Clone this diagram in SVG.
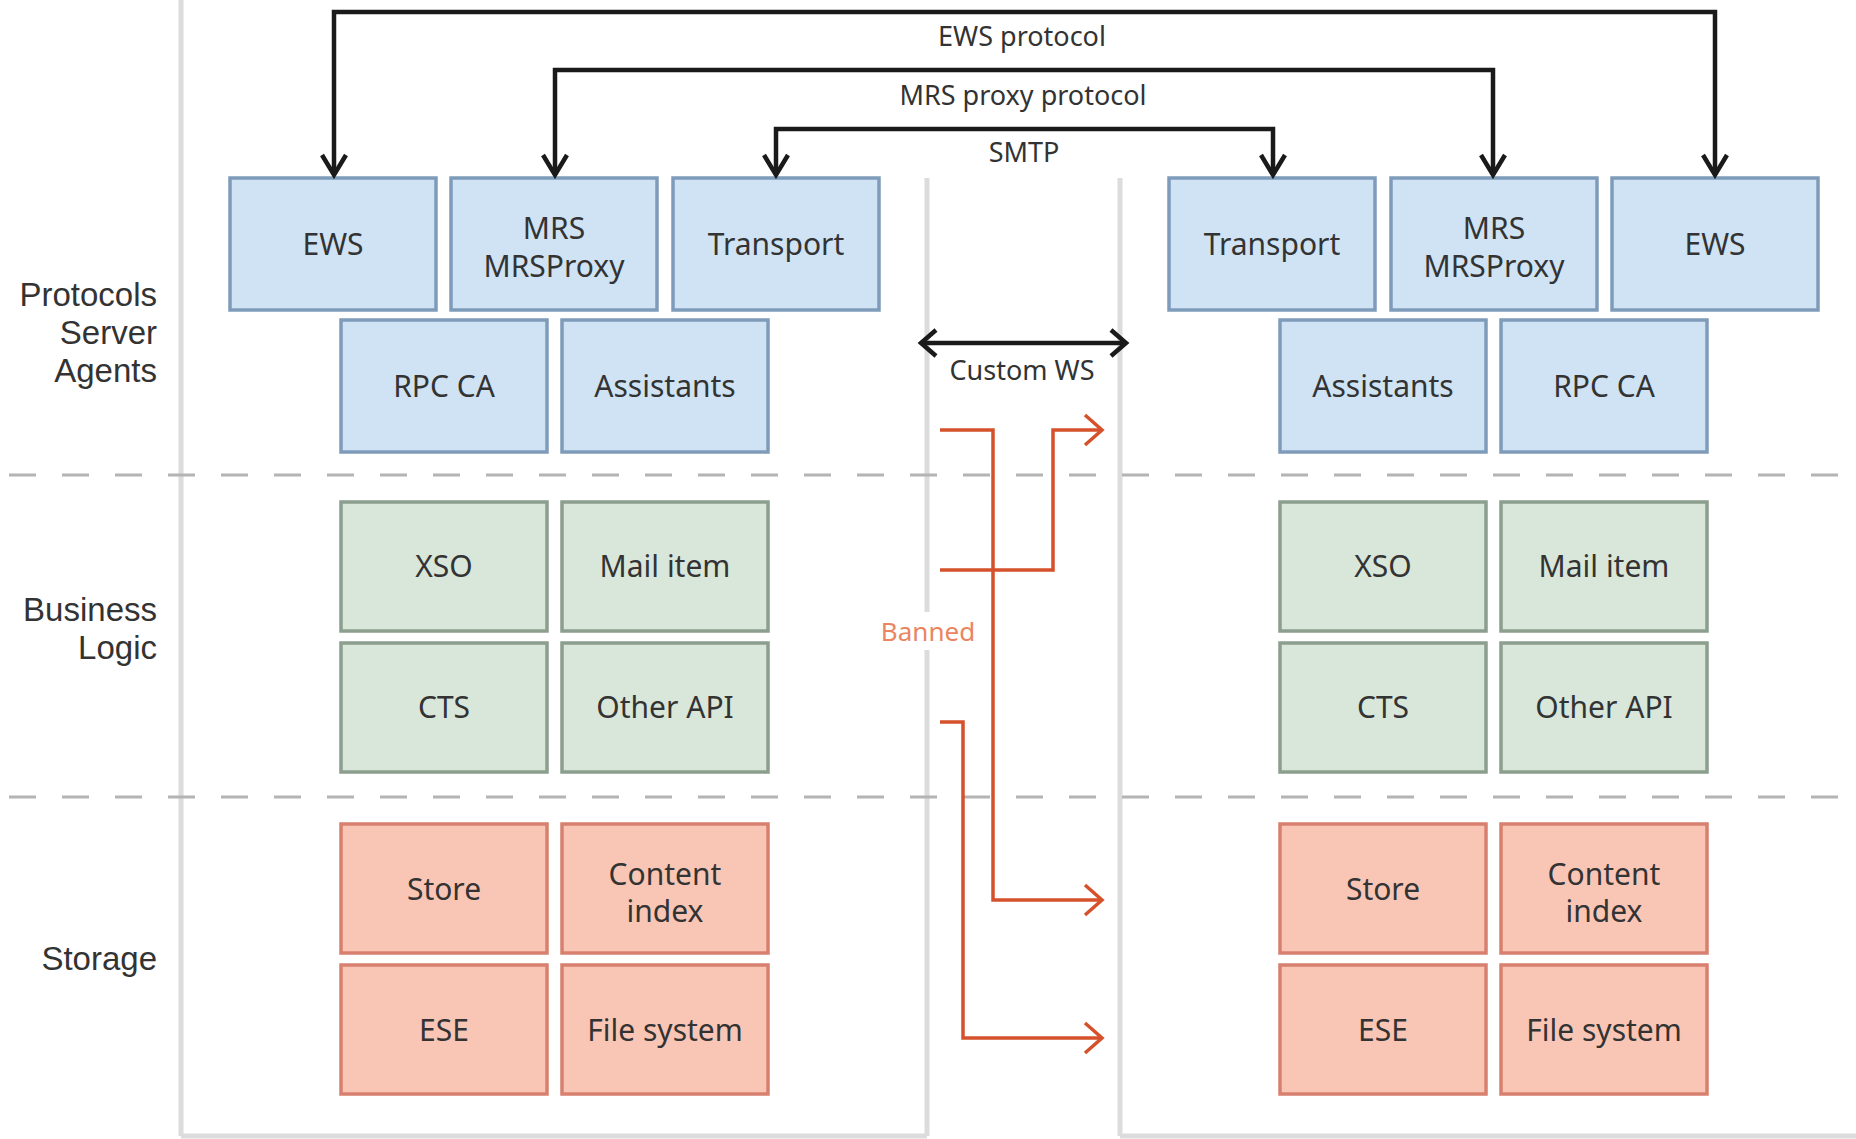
<svg xmlns="http://www.w3.org/2000/svg" width="1856" height="1139" viewBox="0 0 1856 1139">
<style>
.bg{fill:#ffffff}
.vline{stroke:#dcdcdc;stroke-width:5;fill:none}
.dash{stroke:#b4b4b4;stroke-width:3;stroke-dasharray:27 26;fill:none}
.blue{fill:#cfe3f5;stroke:#7e9cba;stroke-width:3.5}
.green{fill:#d9e6da;stroke:#8c9f8e;stroke-width:3.5}
.red{fill:#f9c6b6;stroke:#d8806f;stroke-width:3.5}
.lbl{font-family:"Noto Sans","Open Sans",sans-serif;font-size:30px;fill:#333333;text-anchor:middle}
.side{font-family:"Liberation Sans",Arial,sans-serif;font-size:33px;fill:#333333;text-anchor:end}
.proto{font-family:"Noto Sans","Open Sans",sans-serif;font-size:27px;fill:#333333;text-anchor:middle}
.ban{font-family:"Noto Sans","Open Sans",sans-serif;font-size:26px;fill:#ea8560;text-anchor:middle}
.blk{stroke:#1a1a1a;stroke-width:4.5;fill:none}
.org{stroke:#d5512b;stroke-width:3.5;fill:none}
</style>
<defs>
<marker id="ab" markerUnits="userSpaceOnUse" viewBox="-2 -2 26 28" refX="20" refY="12" markerWidth="26" markerHeight="28" orient="auto-start-reverse" overflow="visible">
<path d="M0,0 L20,12 L0,24" fill="none" stroke="#1a1a1a" stroke-width="4.5"/>
</marker>
<marker id="aw" markerUnits="userSpaceOnUse" viewBox="-2 -2 20 30" refX="15" refY="13" markerWidth="20" markerHeight="30" orient="auto-start-reverse" overflow="visible">
<path d="M0,0 L15,13 L0,26" fill="none" stroke="#1a1a1a" stroke-width="4.5"/>
</marker>
<marker id="ao" markerUnits="userSpaceOnUse" viewBox="-2 -2 22 34" refX="17" refY="15" markerWidth="22" markerHeight="34" orient="auto" overflow="visible">
<path d="M0,0 L17,15 L0,30" fill="none" stroke="#d5512b" stroke-width="3.5"/>
</marker>
</defs>
<rect class="bg" x="0" y="0" width="1856" height="1139"/>

<g id="frame">
<line class="vline" x1="181" y1="0" x2="181" y2="1136"/>
<line class="vline" x1="927" y1="178" x2="927" y2="1136"/>
<line class="vline" x1="1120" y1="178" x2="1120" y2="1136"/>
<line class="vline" x1="181" y1="1136" x2="927" y2="1136"/>
<line class="vline" x1="1120" y1="1136" x2="1856" y2="1136"/>
<line class="dash" x1="9" y1="475" x2="1856" y2="475"/>
<line class="dash" x1="9" y1="797" x2="1856" y2="797"/>
</g>

<g id="layer-labels">
<text class="side" x="157" y="306"><tspan x="157" y="306">Protocols</tspan><tspan x="157" y="344">Server</tspan><tspan x="157" y="382">Agents</tspan></text>
<text class="side" x="157" y="621"><tspan x="157" y="621">Business</tspan><tspan x="157" y="659">Logic</tspan></text>
<text class="side" x="157" y="970">Storage</text>
</g>

<g id="left-ews"><rect class="blue" x="230" y="178" width="206" height="132"/><text class="lbl" x="333" y="255">EWS</text></g>
<g id="left-mrs"><rect class="blue" x="451" y="178" width="206" height="132"/><text class="lbl" x="554" y="239"><tspan x="554" y="239">MRS</tspan><tspan x="554" y="277">MRSProxy</tspan></text></g>
<g id="left-transport"><rect class="blue" x="673" y="178" width="206" height="132"/><text class="lbl" x="776" y="255">Transport</text></g>
<g id="left-rpcca"><rect class="blue" x="341" y="320" width="206" height="132"/><text class="lbl" x="444" y="397">RPC CA</text></g>
<g id="left-assistants"><rect class="blue" x="562" y="320" width="206" height="132"/><text class="lbl" x="665" y="397">Assistants</text></g>
<g id="left-xso"><rect class="green" x="341" y="502" width="206" height="129"/><text class="lbl" x="444" y="577">XSO</text></g>
<g id="left-mailitem"><rect class="green" x="562" y="502" width="206" height="129"/><text class="lbl" x="665" y="577">Mail item</text></g>
<g id="left-cts"><rect class="green" x="341" y="643" width="206" height="129"/><text class="lbl" x="444" y="718">CTS</text></g>
<g id="left-otherapi"><rect class="green" x="562" y="643" width="206" height="129"/><text class="lbl" x="665" y="718">Other API</text></g>
<g id="left-store"><rect class="red" x="341" y="824" width="206" height="129"/><text class="lbl" x="444" y="900">Store</text></g>
<g id="left-contentindex"><rect class="red" x="562" y="824" width="206" height="129"/><text class="lbl" x="665" y="885"><tspan x="665" y="885">Content</tspan><tspan x="665" y="922">index</tspan></text></g>
<g id="left-ese"><rect class="red" x="341" y="965" width="206" height="129"/><text class="lbl" x="444" y="1041">ESE</text></g>
<g id="left-filesystem"><rect class="red" x="562" y="965" width="206" height="129"/><text class="lbl" x="665" y="1041">File system</text></g>

<g id="right-transport"><rect class="blue" x="1169" y="178" width="206" height="132"/><text class="lbl" x="1272" y="255">Transport</text></g>
<g id="right-mrs"><rect class="blue" x="1391" y="178" width="206" height="132"/><text class="lbl" x="1494" y="239"><tspan x="1494" y="239">MRS</tspan><tspan x="1494" y="277">MRSProxy</tspan></text></g>
<g id="right-ews"><rect class="blue" x="1612" y="178" width="206" height="132"/><text class="lbl" x="1715" y="255">EWS</text></g>
<g id="right-assistants"><rect class="blue" x="1280" y="320" width="206" height="132"/><text class="lbl" x="1383" y="397">Assistants</text></g>
<g id="right-rpcca"><rect class="blue" x="1501" y="320" width="206" height="132"/><text class="lbl" x="1604" y="397">RPC CA</text></g>
<g id="right-xso"><rect class="green" x="1280" y="502" width="206" height="129"/><text class="lbl" x="1383" y="577">XSO</text></g>
<g id="right-mailitem"><rect class="green" x="1501" y="502" width="206" height="129"/><text class="lbl" x="1604" y="577">Mail item</text></g>
<g id="right-cts"><rect class="green" x="1280" y="643" width="206" height="129"/><text class="lbl" x="1383" y="718">CTS</text></g>
<g id="right-otherapi"><rect class="green" x="1501" y="643" width="206" height="129"/><text class="lbl" x="1604" y="718">Other API</text></g>
<g id="right-store"><rect class="red" x="1280" y="824" width="206" height="129"/><text class="lbl" x="1383" y="900">Store</text></g>
<g id="right-contentindex"><rect class="red" x="1501" y="824" width="206" height="129"/><text class="lbl" x="1604" y="885"><tspan x="1604" y="885">Content</tspan><tspan x="1604" y="922">index</tspan></text></g>
<g id="right-ese"><rect class="red" x="1280" y="965" width="206" height="129"/><text class="lbl" x="1383" y="1041">ESE</text></g>
<g id="right-filesystem"><rect class="red" x="1501" y="965" width="206" height="129"/><text class="lbl" x="1604" y="1041">File system</text></g>

<g id="connectors">
<path class="blk" d="M334,175 V12 H1715 V175" marker-start="url(#ab)" marker-end="url(#ab)"/>
<path class="blk" d="M555,175 V70 H1493 V175" marker-start="url(#ab)" marker-end="url(#ab)"/>
<path class="blk" d="M776,175 V129 H1273 V175" marker-start="url(#ab)" marker-end="url(#ab)"/>
<path class="blk" d="M921,343 H1126" marker-start="url(#aw)" marker-end="url(#aw)"/>
<text class="proto" x="1022" y="46">EWS protocol</text>
<text class="proto" x="1023" y="105">MRS proxy protocol</text>
<text class="proto" x="1024" y="162">SMTP</text>
<text class="proto" x="1022" y="380">Custom WS</text>
<path class="org" d="M940,430 H993 V900 H1102" marker-end="url(#ao)"/>
<path class="org" d="M940,570 H1053 V430 H1102" marker-end="url(#ao)"/>
<path class="org" d="M940,722 H963 V1038 H1102" marker-end="url(#ao)"/>
<rect x="878" y="612" width="100" height="38" fill="#ffffff"/>
<text class="ban" x="928" y="641">Banned</text>
</g>
</svg>
